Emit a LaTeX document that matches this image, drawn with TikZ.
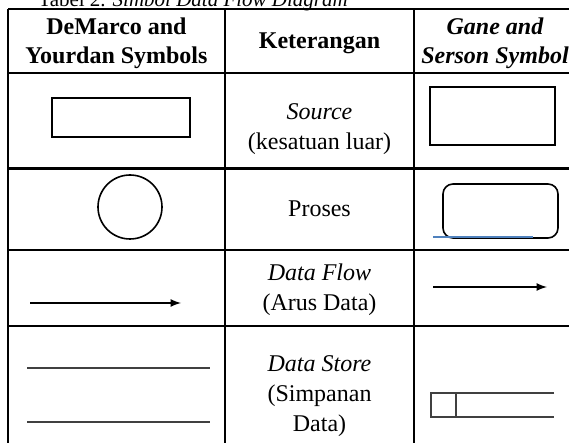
\documentclass[tikz,border=0pt]{standalone}
\usepackage{fontspec}
\setmainfont{Liberation Serif}
\begin{document}
\begin{tikzpicture}[x=0.5pt,y=-0.5pt,
  grid/.style={line width=1.1pt},
  sym/.style={line width=0.8pt},
  thin/.style={line width=0.55pt, draw=black!75},
  hd/.style={font=\fontsize{12}{14.5}\selectfont\bfseries, align=center},
  txt/.style={font=\fontsize{12}{15}\selectfont, align=center}]
\useasboundingbox (0,0) rectangle (569,443);
\clip (0,0) rectangle (569,443);

% caption
\node[anchor=base west, inner sep=0, font=\fontsize{10.5}{12}\selectfont] (title) at (38,7)
  {Tabel 2. \textit{Simbol Data Flow Diagram}};

% table rules
\foreach \yy in {9,73,168.5,250,326}
  \draw[grid] (8,\yy) -- (582,\yy);
\foreach \xx in {8,225,414,582}
  \draw[grid] (\xx,9) -- (\xx,470);

% header
\node[hd] (h1) at (116.5,43) {DeMarco and\\Yourdan Symbols};
\node[hd] (h2) at (319.5,43) {Keterangan};
\node[hd, font=\fontsize{12}{14.5}\selectfont\bfseries\itshape] (h3) at (495,43) {Gane and\\Serson Symbol};

% row 1: source
\draw[sym] (52,98) rectangle (190,137);
\node[txt] (t1) at (319.5,129) {\textit{Source}\\(kesatuan luar)};
\draw[sym] (430,87) rectangle (555,145);

% row 2: process
\draw[sym] (130,207) circle[radius=16pt];
\node[txt] (t2) at (319.5,209) {Proses};
\draw[sym, rounded corners=5pt] (443,184) rectangle (558,238);
\draw[line width=1pt, draw={rgb,255:red,79;green,129;blue,189}] (433,237) -- (533,237);

% row 3: data flow
\coordinate (a1) at (30,303);
\coordinate (a2) at (181,303);
\draw[sym, -latex] (a1) -- (a2);
\node[txt] (t3) at (319.5,290) {\textit{Data Flow}\\(Arus Data)};
\coordinate (b1) at (433,287);
\coordinate (b2) at (547,287);
\draw[sym, -latex] (b1) -- (b2);

% row 4: data store
\draw[thin] (27,368) -- (210,368);
\draw[thin] (27,422) -- (210,422);
\node[txt] (t4) at (319.5,396) {\textit{Data Store}\\(Simpanan\\Data)};
\draw[thin] (554,393) -- (431,393) -- (431,417) -- (554,417);
\draw[thin] (456,393) -- (456,417);
\end{tikzpicture}
\end{document}
